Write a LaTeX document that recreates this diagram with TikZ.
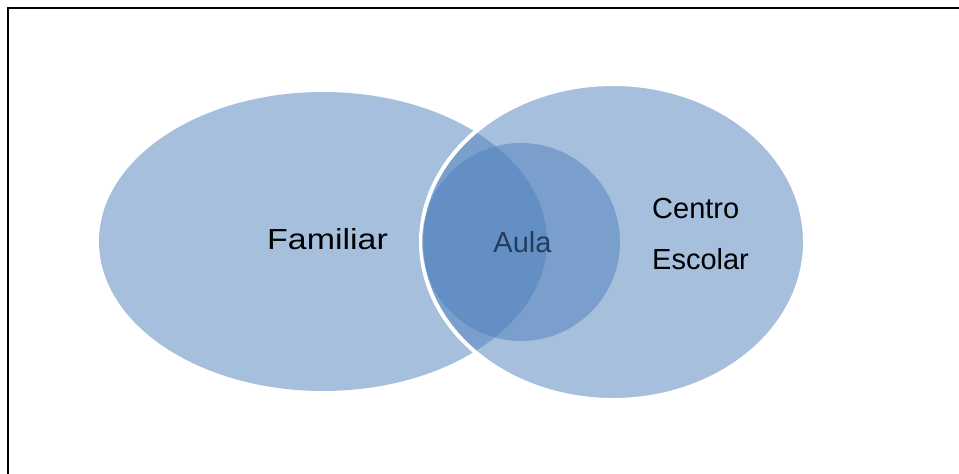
\documentclass[tikz,border=0pt]{standalone}
\usepackage{fontspec}
\setmainfont{Liberation Sans}
\begin{document}
\begin{tikzpicture}[x=1pt,y=-1pt,
  blob/.style={fill={rgb,255:red,79;green,129;blue,189},fill opacity=0.5},
  lbl/.style={font=\fontsize{29}{32}\selectfont,inner sep=0pt,anchor=base}]
\useasboundingbox (0,0) rectangle (959,474);
\fill[white] (0,0) rectangle (959,474);
% border
\draw[line width=1.3pt] (7.3,8) -- (959,8);
\draw[line width=2pt] (7.7,7.4) -- (7.7,474);
% shapes
\path[blob] (323,241.5) ellipse [x radius=224, y radius=149.5];
\path[blob,draw=white,line width=4pt,draw opacity=1] (613,242) ellipse [x radius=192, y radius=158];
\path[blob] (521,242) circle [radius=99];
% labels
\node[lbl,xscale=1.17] (fam) at (327.5,249) {Familiar};
\node[lbl,text={rgb,255:red,36;green,60;blue,93}] (aula) at (522.5,252) {Aula};
\node[lbl,anchor=base west] (centro) at (652,218.5) {Centro};
\node[lbl,anchor=base west] (escolar) at (652,269) {Escolar};
\end{tikzpicture}
\end{document}
